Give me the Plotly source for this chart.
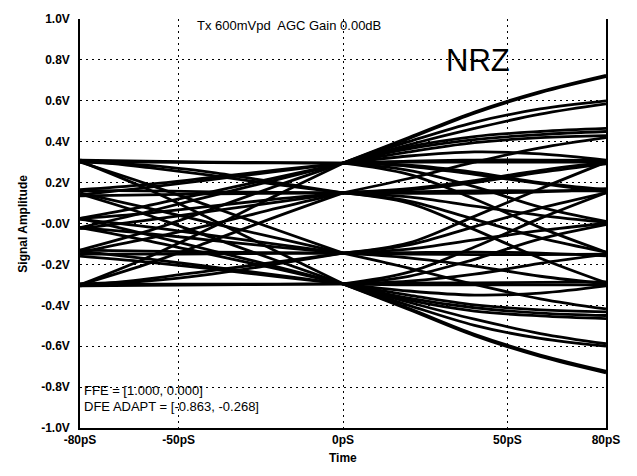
import plotly.graph_objects as go

# ---- data ----
x_left = [-80, -60, -40, -20, 0]      # pS
x_right = [0, 20, 40, 60, 80]         # pS

# left-half traces (V at x_left)
left_traces = [
    [0.310, 0.305, 0.300, 0.298, 0.295],
    [0.300, 0.300, 0.298, 0.296, 0.295],
    [0.165, 0.190, 0.225, 0.262, 0.295],
    [0.140, 0.175, 0.215, 0.255, 0.295],
    [0.025, 0.085, 0.155, 0.225, 0.295],
    [-0.020, 0.055, 0.135, 0.215, 0.295],
    [-0.130, -0.040, 0.070, 0.185, 0.295],
    [-0.300, -0.170, -0.020, 0.140, 0.295],
    [0.310, 0.275, 0.235, 0.190, 0.150],
    [0.300, 0.285, 0.250, 0.200, 0.150],
    [0.160, 0.160, 0.155, 0.152, 0.150],
    [0.135, 0.140, 0.145, 0.148, 0.150],
    [0.025, 0.050, 0.085, 0.120, 0.150],
    [-0.025, 0.015, 0.060, 0.105, 0.150],
    [-0.140, -0.075, -0.005, 0.075, 0.150],
    [-0.300, -0.200, -0.085, 0.035, 0.150],
    [-0.305, -0.302, -0.300, -0.298, -0.295],
    [-0.295, -0.296, -0.296, -0.296, -0.295],
    [-0.160, -0.188, -0.222, -0.260, -0.295],
    [-0.135, -0.172, -0.212, -0.252, -0.295],
    [-0.020, -0.082, -0.152, -0.222, -0.295],
    [0.025, -0.052, -0.132, -0.212, -0.295],
    [0.145, 0.045, -0.068, -0.182, -0.295],
    [0.305, 0.172, 0.020, -0.138, -0.295],
    [-0.305, -0.272, -0.230, -0.188, -0.145],
    [-0.295, -0.282, -0.248, -0.198, -0.145],
    [-0.150, -0.150, -0.148, -0.146, -0.145],
    [-0.130, -0.135, -0.140, -0.143, -0.145],
    [-0.020, -0.048, -0.082, -0.115, -0.145],
    [0.020, -0.015, -0.058, -0.102, -0.145],
    [0.150, 0.078, 0.002, -0.072, -0.145],
    [0.300, 0.195, 0.082, -0.032, -0.145],
]

# right-half traces (V at x_right)
right_traces = [
    [0.295, 0.420, 0.545, 0.645, 0.725],
    [0.295, 0.415, 0.540, 0.640, 0.718],
    [0.295, 0.400, 0.495, 0.560, 0.600],
    [0.295, 0.385, 0.465, 0.535, 0.585],
    [0.295, 0.375, 0.425, 0.450, 0.465],
    [0.295, 0.365, 0.410, 0.435, 0.450],
    [0.295, 0.350, 0.395, 0.420, 0.430],
    [0.295, 0.330, 0.350, 0.340, 0.310],
    [0.295, 0.300, 0.300, 0.300, 0.300],
    [0.295, 0.305, 0.310, 0.310, 0.308],
    [0.295, 0.285, 0.250, 0.200, 0.165],
    [0.295, 0.280, 0.240, 0.195, 0.155],
    [0.295, 0.260, 0.180, 0.080, 0.010],
    [0.295, 0.240, 0.120, -0.020, -0.140],
    [0.150, 0.170, 0.210, 0.260, 0.300],
    [0.150, 0.165, 0.200, 0.250, 0.292],
    [0.150, 0.220, 0.300, 0.370, 0.420],
    [0.150, 0.155, 0.160, 0.160, 0.160],
    [0.150, 0.148, 0.148, 0.155, 0.170],
    [0.150, 0.130, 0.085, 0.040, 0.005],
    [0.150, 0.110, 0.020, -0.070, -0.140],
    [0.150, 0.100, -0.030, -0.170, -0.290],
    [-0.295, -0.420, -0.548, -0.650, -0.730],
    [-0.295, -0.415, -0.542, -0.643, -0.722],
    [-0.295, -0.400, -0.498, -0.562, -0.600],
    [-0.295, -0.385, -0.468, -0.538, -0.588],
    [-0.295, -0.375, -0.428, -0.452, -0.465],
    [-0.295, -0.365, -0.412, -0.438, -0.450],
    [-0.295, -0.350, -0.398, -0.422, -0.432],
    [-0.295, -0.330, -0.350, -0.340, -0.305],
    [-0.295, -0.300, -0.300, -0.300, -0.300],
    [-0.295, -0.292, -0.290, -0.288, -0.285],
    [-0.295, -0.282, -0.248, -0.195, -0.150],
    [-0.295, -0.258, -0.175, -0.075, -0.005],
    [-0.295, -0.238, -0.115, 0.025, 0.150],
    [-0.145, -0.168, -0.208, -0.258, -0.295],
    [-0.145, -0.218, -0.298, -0.368, -0.418],
    [-0.145, -0.150, -0.152, -0.152, -0.150],
    [-0.145, -0.142, -0.140, -0.145, -0.158],
    [-0.145, -0.125, -0.080, -0.035, 0.000],
    [-0.145, -0.105, -0.015, 0.075, 0.150],
    [-0.145, -0.095, 0.035, 0.170, 0.300],
]

y_tickvals = [-1.0, -0.8, -0.6, -0.4, -0.2, 0.0, 0.2, 0.4, 0.6, 0.8, 1.0]
y_ticktext = ["-1.0V", "-0.8V", "-0.6V", "-0.4V", "-0.2V", "-0.0V",
              "0.2V", "0.4V", "0.6V", "0.8V", "1.0V"]
x_tickvals = [-80, -50, 0, 50, 80]
x_ticktext = ["-80pS", "-50pS", "0pS", "50pS", "80pS"]

header_text = "Tx 600mVpd  AGC Gain 0.00dB"
mode_text = "NRZ"
ffe_text = "FFE = [1.000, 0.000]"
dfe_text = "DFE ADAPT = [-0.863, -0.268]"

# ---- build figure ----
def join(xs, traces):
    X, Y = [], []
    for t in traces:
        X += xs + [None]
        Y += t + [None]
    return X, Y

fig = go.Figure()
for xs, tr in ((x_left, left_traces), (x_right, right_traces)):
    X, Y = join(xs, tr)
    fig.add_trace(go.Scatter(x=X, y=Y, mode="lines",
                             line=dict(color="black", width=2.8, shape="spline", smoothing=1.0),
                             connectgaps=False, hoverinfo="skip", showlegend=False))

FONT = "Liberation Sans, Arial, sans-serif"
fig.update_layout(
    width=637, height=476,
    margin=dict(l=80, r=31, t=14, b=48),
    paper_bgcolor="white", plot_bgcolor="white",
    font=dict(family=FONT, color="black"),
    showlegend=False,
)
fig.update_xaxes(
    range=[-80, 80], tickvals=x_tickvals, ticktext=x_ticktext,
    tickfont=dict(size=12, weight="bold", family=FONT),
    showgrid=True, gridcolor="black", gridwidth=1, griddash="2px,4px",
    showline=True, linecolor="black", linewidth=1.5, mirror=False,
    ticks="", zeroline=False,
)
fig.update_yaxes(
    range=[-1.0, 1.0], tickvals=y_tickvals, ticktext=y_ticktext,
    tickfont=dict(size=12, weight="bold", family=FONT),
    showgrid=True, gridcolor="black", gridwidth=1, griddash="2px,4px",
    showline=True, linecolor="black", linewidth=1.5, mirror=True,
    ticks="outside", ticklen=6, tickcolor="rgba(0,0,0,0)", zeroline=False,
)

fig.add_annotation(x=-16.4, y=0.966, text=header_text, showarrow=False,
                   xanchor="center", yanchor="middle",
                   font=dict(size=13, family=FONT))
fig.add_annotation(x=41.1, y=0.797, text=mode_text, showarrow=False,
                   xanchor="center", yanchor="middle",
                   font=dict(size=31, family=FONT))
fig.add_annotation(x=-79.4, y=-0.819, text=ffe_text, showarrow=False,
                   xanchor="left", yanchor="middle",
                   font=dict(size=13, family=FONT))
fig.add_annotation(x=-79.4, y=-0.896, text=dfe_text, showarrow=False,
                   xanchor="left", yanchor="middle",
                   font=dict(size=13, family=FONT))
fig.add_annotation(xref="paper", yref="paper", x=-0.110, y=0.5,
                   text="Signal Amplitude", textangle=-90, showarrow=False,
                   xanchor="center", yanchor="middle",
                   font=dict(size=12, weight="bold", family=FONT))
fig.add_annotation(xref="paper", yref="paper", x=0.5, y=-0.0725,
                   text="Time", showarrow=False,
                   xanchor="center", yanchor="middle",
                   font=dict(size=12, weight="bold", family=FONT))

fig.write_html("out.html")
